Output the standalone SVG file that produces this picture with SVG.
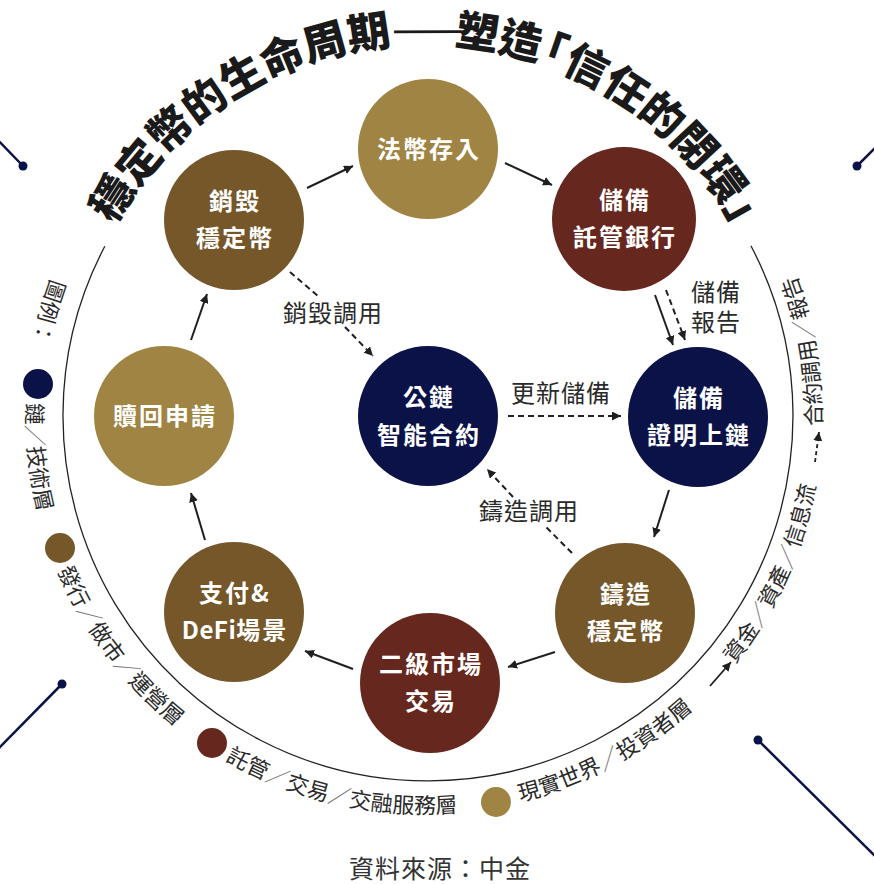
<svg xmlns="http://www.w3.org/2000/svg" width="874" height="884" viewBox="0 0 874 884">
<style>
.nt{font-family:"Noto Sans CJK TC","Noto Sans CJK SC",sans-serif;font-weight:700;font-size:24px;fill:#fff;text-anchor:middle;letter-spacing:2px}
.lb{font-family:"Noto Sans CJK TC","Noto Sans CJK SC",sans-serif;font-size:24px;fill:#2a2a2a;text-anchor:middle;letter-spacing:1px}
.lg{font-family:"Noto Sans CJK TC","Noto Sans CJK SC",sans-serif;font-size:22px;fill:#2a2a2a;text-anchor:middle}
.sl{fill:#777}
.title{font-family:"Noto Sans CJK TC","Noto Sans CJK SC",sans-serif;font-size:43px;font-weight:900;fill:#1a1a1a}
.gold{fill:#A08444}.brown{fill:#75572A}.red{fill:#66281E}.navy{fill:#0B1247}
.c{stroke:#1f1f1f;stroke-width:2;fill:none}
.d{stroke:#1f1f1f;stroke-width:2;fill:none;stroke-dasharray:6 4}
.ring{stroke:#222;stroke-width:1.3;fill:none}
.deco{stroke:#0B1247;stroke-width:2.5;fill:none}
</style>
<defs>
<marker id="ah" viewBox="0 0 10 10" refX="10" refY="5" markerWidth="9" markerHeight="9" markerUnits="userSpaceOnUse" orient="auto"><path d="M0,0 L10,5 L0,10 z" fill="#1f1f1f"/></marker>
<path id="tpTitle" d="M 68 400 A 356 356 0 0 1 780 400"/>
<path id="tpRing" d="M 424 18.5 A 397.5 397.5 0 1 0 424 813.5 A 397.5 397.5 0 1 0 424 18.5"/>
</defs>

<g id="decorations">
<path class="deco" d="M -5 137 L 23 166"/><circle cx="23" cy="166" r="4.5" class="navy"/>
<path class="deco" d="M 880 143 L 857 166"/><circle cx="857" cy="166" r="4.5" class="navy"/>
<path class="deco" d="M -5 752 L 62 684"/><circle cx="62" cy="684" r="4.5" class="navy"/>
<path class="deco" d="M 880 861 L 758 740"/><circle cx="758" cy="740" r="4.5" class="navy"/>
</g>

<g id="title">
<text class="title"><textPath href="#tpTitle" startOffset="183">穩定幣的生命周期<tspan letter-spacing="-10" font-weight="400">——</tspan>塑<tspan letter-spacing="-19">造</tspan>「信任的閉環」</textPath></text>
</g>

<g id="ring">
<path class="ring" d="M 750.9 245.8 A 365 365 0 1 1 104.8 246.3"/>
</g>

<g id="legend">
<circle cx="38" cy="384" r="15" class="navy"/>
<circle cx="60" cy="548" r="15" class="brown"/>
<circle cx="212" cy="743" r="15" class="red"/>
<circle cx="496" cy="802" r="15" class="gold"/>
<text class="lg"><textPath href="#tpRing" startOffset="516.9">圖例：</textPath></text>
<text class="lg"><textPath href="#tpRing" startOffset="666.4">鏈<tspan class="sl">／</tspan>技術層</textPath></text>
<text class="lg"><textPath href="#tpRing" startOffset="881.4">發行<tspan class="sl">／</tspan>做市<tspan class="sl">／</tspan>運營層</textPath></text>
<text class="lg"><textPath href="#tpRing" startOffset="1161.4">託管<tspan class="sl">／</tspan>交易<tspan class="sl">／</tspan>交融服務層</textPath></text>
<text class="lg"><textPath href="#tpRing" startOffset="1445.1">現實世界<tspan class="sl">／</tspan>投資者層</textPath></text>
<text class="lg"><textPath href="#tpRing" startOffset="1703.9">資金<tspan class="sl">／</tspan>資產<tspan class="sl">／</tspan>信息流</textPath></text>
<text class="lg"><textPath href="#tpRing" startOffset="1939.8">合約調用<tspan class="sl">／</tspan>報告</textPath></text>
<path d="M 710 686 L 731 662" stroke="#1f1f1f" stroke-width="1.8" fill="none" marker-end="url(#ah)"/>
<path d="M 815 462 L 819 432" stroke="#1f1f1f" stroke-width="1.8" fill="none" stroke-dasharray="4 3" marker-end="url(#ah)"/>
</g>

<g id="connectors">
<path class="c" d="M 307 188 L 353 166" marker-end="url(#ah)"/>
<path class="c" d="M 505 163 L 552 185" marker-end="url(#ah)"/>
<path class="c" d="M 655 295 L 673 345" marker-end="url(#ah)"/>
<path class="d" d="M 666 290 L 685 340" marker-end="url(#ah)"/>
<path class="c" d="M 669 490 L 654 537" marker-end="url(#ah)"/>
<path class="c" d="M 555 652 L 508 667" marker-end="url(#ah)"/>
<path class="c" d="M 353 669 L 305 651" marker-end="url(#ah)"/>
<path class="c" d="M 205 540 L 191 493" marker-end="url(#ah)"/>
<path class="c" d="M 191 340 L 207 294" marker-end="url(#ah)"/>
<path class="d" d="M 290 272 L 318 296"/>
<path class="d" d="M 345 327 L 373 356" marker-end="url(#ah)"/>
<path class="d" d="M 508 416 L 621 416" marker-end="url(#ah)"/>
<path class="d" d="M 572 553 L 545 526"/>
<path class="d" d="M 513 497 L 487 469" marker-end="url(#ah)"/>
<text class="lb" x="333" y="322">銷毀調用</text>
<text class="lb" x="561" y="402">更新儲備</text>
<text class="lb" x="529" y="520">鑄造調用</text>
<text class="lb" x="716" y="301">儲備</text>
<text class="lb" x="716" y="331">報告</text>
</g>

<g id="n-burn"><circle cx="234" cy="220" r="70" class="brown"/><text class="nt" x="235" y="210">銷毀</text><text class="nt" x="235" y="247">穩定幣</text></g>
<g id="n-fiat"><circle cx="428" cy="149" r="70" class="gold"/><text class="nt" x="429" y="158">法幣存入</text></g>
<g id="n-custody"><circle cx="624" cy="219" r="72" class="red"/><text class="nt" x="625" y="209">儲備</text><text class="nt" x="625" y="246">託管銀行</text></g>
<g id="n-proof"><circle cx="698" cy="417" r="70" class="navy"/><text class="nt" x="699" y="407">儲備</text><text class="nt" x="699" y="444">證明上鏈</text></g>
<g id="n-mint"><circle cx="625" cy="613" r="70" class="brown"/><text class="nt" x="626" y="603">鑄造</text><text class="nt" x="626" y="640">穩定幣</text></g>
<g id="n-secondary"><circle cx="430" cy="683" r="70" class="red"/><text class="nt" x="431" y="673">二級市場</text><text class="nt" x="431" y="710">交易</text></g>
<g id="n-defi"><circle cx="234" cy="612" r="70" class="brown"/><text class="nt" x="235" y="602">支付&amp;</text><text class="nt" x="235" y="639"><tspan letter-spacing="0.5">DeFi</tspan>場景</text></g>
<g id="n-redeem"><circle cx="164" cy="416" r="70" class="gold"/><text class="nt" x="165" y="425">贖回申請</text></g>
<g id="n-contract"><circle cx="428" cy="416" r="70" class="navy"/><text class="nt" x="429" y="406">公鏈</text><text class="nt" x="429" y="444">智能合約</text></g>

<g id="source"><text x="440" y="878" font-family="Noto Sans CJK TC, sans-serif" font-size="25" fill="#333" text-anchor="middle" letter-spacing="1">資料來源：中金</text></g>
</svg>
